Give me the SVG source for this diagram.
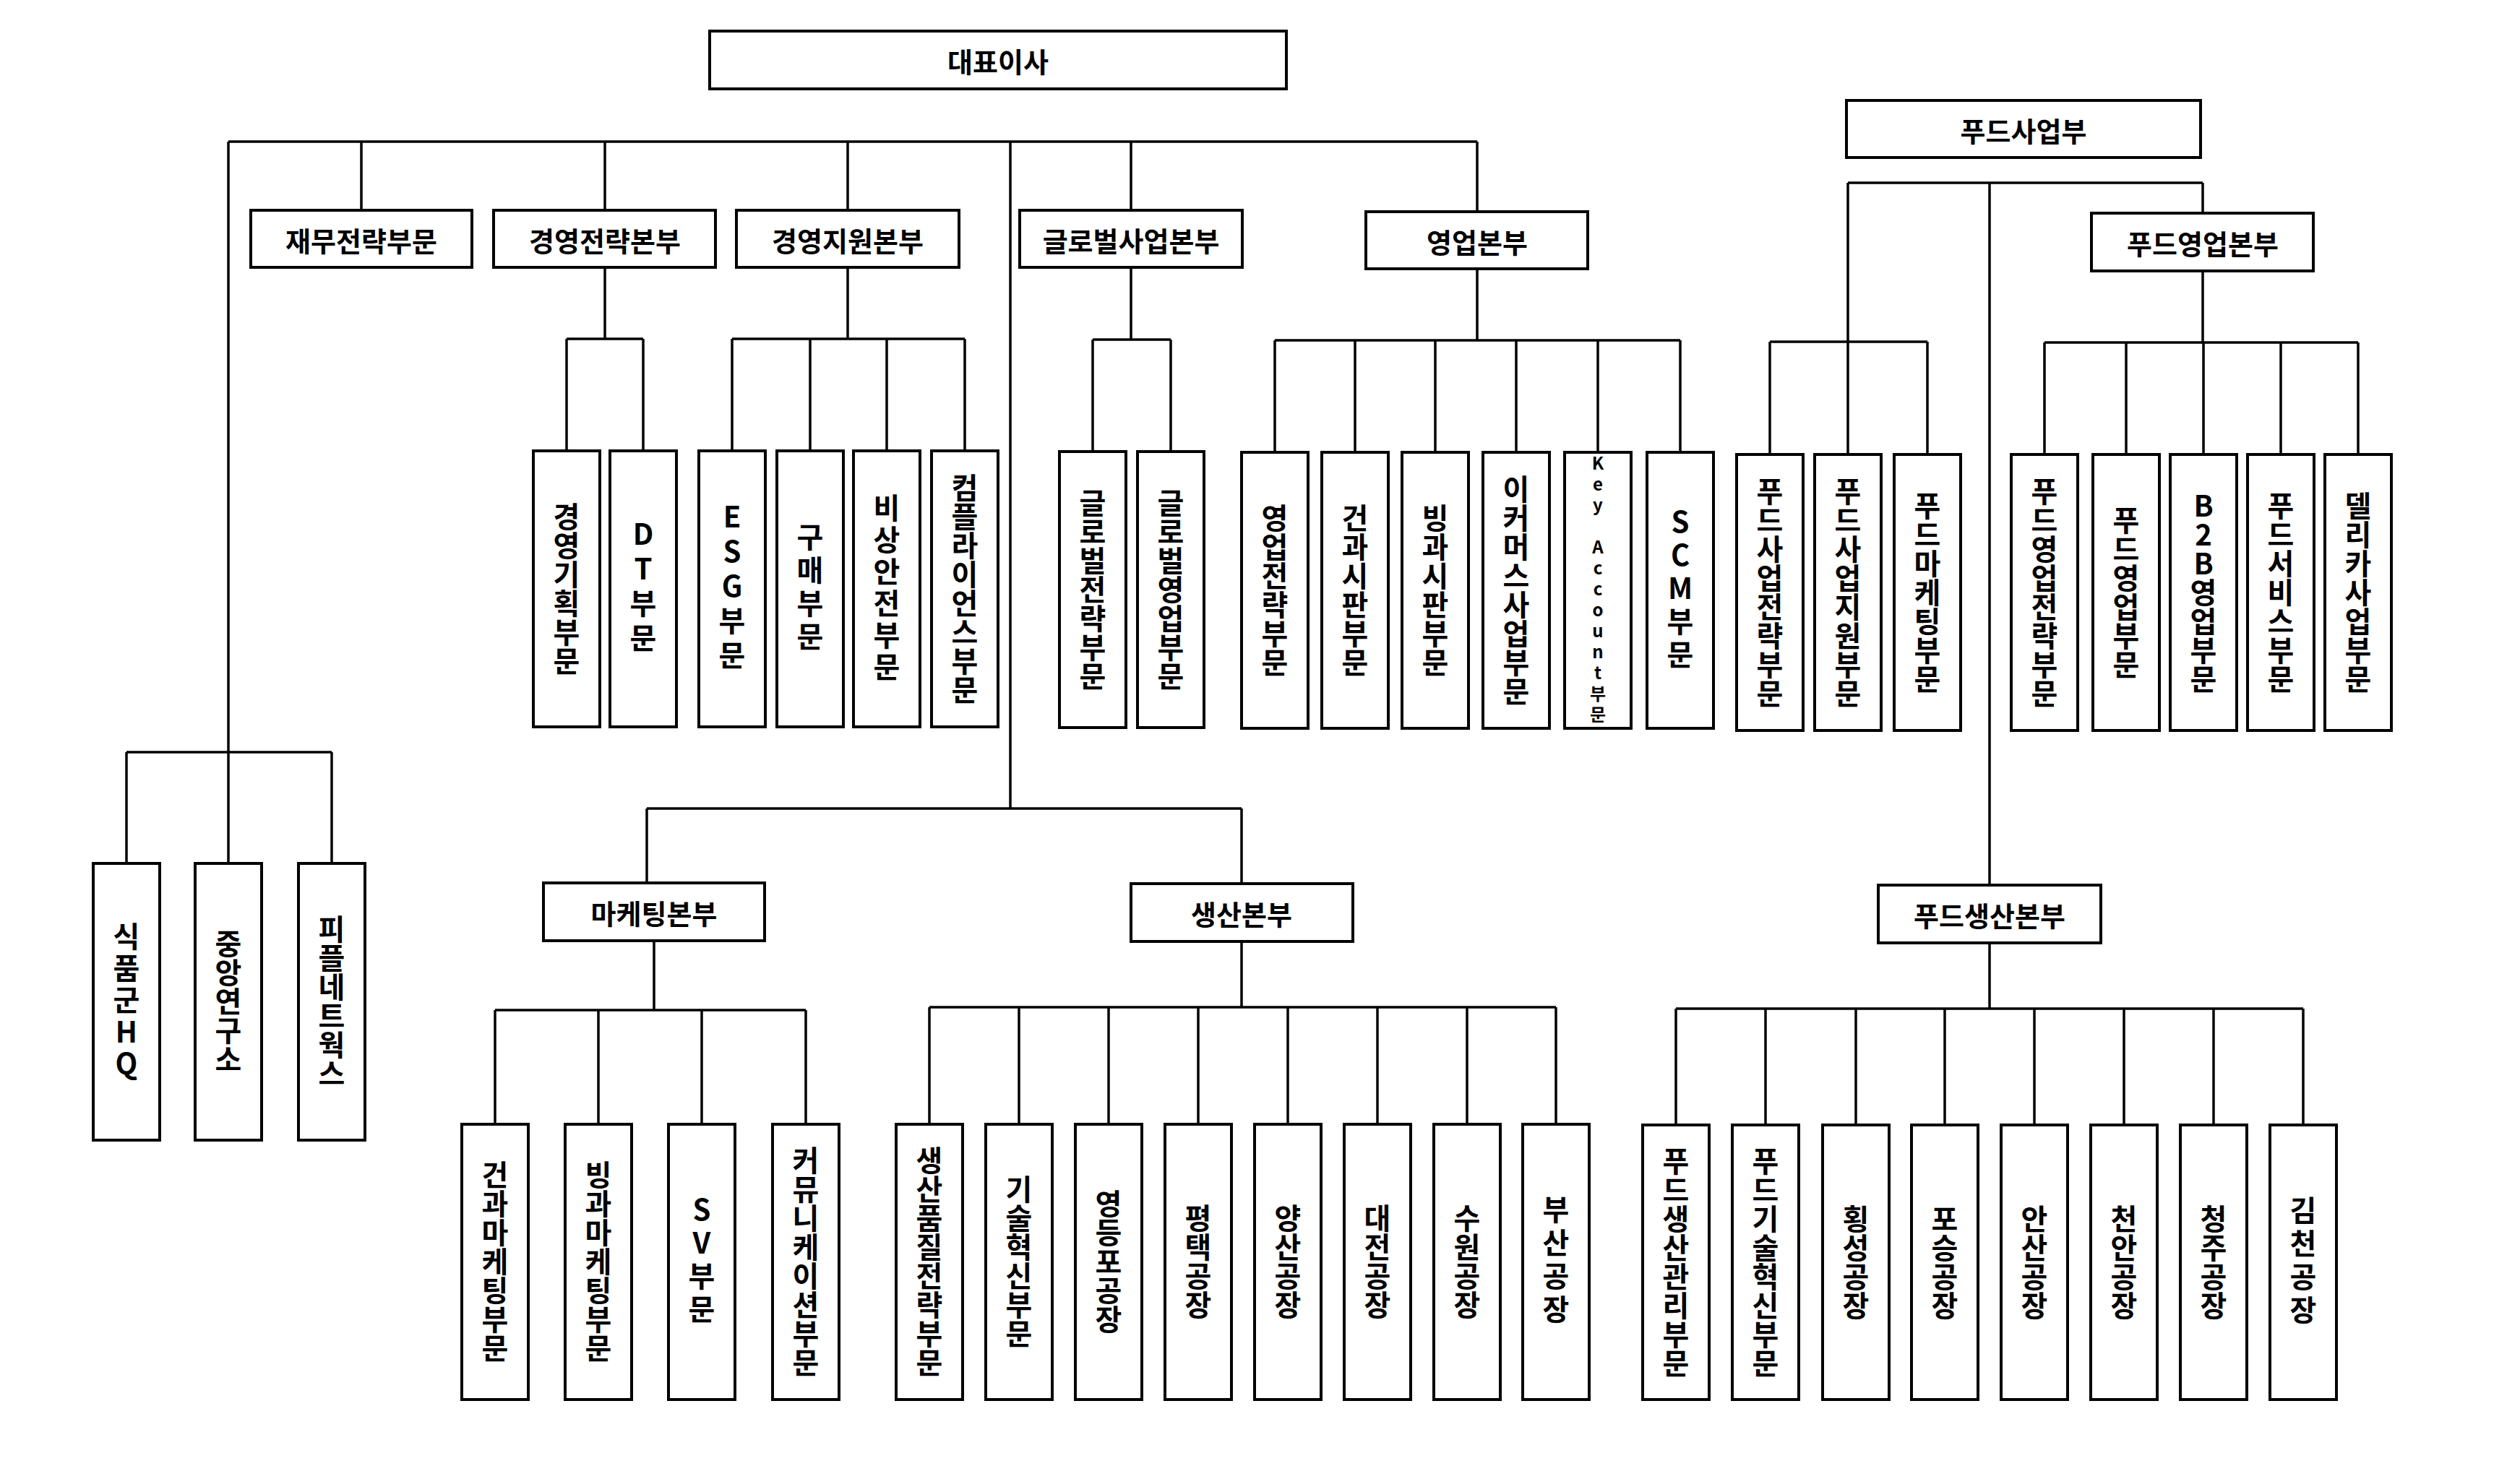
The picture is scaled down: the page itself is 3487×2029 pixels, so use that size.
<svg xmlns="http://www.w3.org/2000/svg" width="3487" height="2029" viewBox="0 0 3487 2029">
<style>
rect{fill:#fff;stroke:#000;stroke-width:4}
.c line{stroke:#000;stroke-width:3.5}
text{font-family:"Noto Sans CJK KR","Noto Sans",sans-serif;font-weight:bold;fill:#000}
.h{font-size:38px;text-anchor:middle;dominant-baseline:central}
.v{font-size:40px;writing-mode:vertical-rl;text-orientation:upright;text-anchor:middle;dominant-baseline:central}
.k{font-size:24px}
</style>
<rect x="0" y="0" width="3487" height="2029" style="stroke:none"/>
<g class="c">
<line x1="316" y1="196" x2="2044" y2="196"/>
<line x1="500" y1="196" x2="500" y2="291"/><line x1="837" y1="196" x2="837" y2="291"/><line x1="1173" y1="196" x2="1173" y2="291"/><line x1="1565" y1="196" x2="1565" y2="291"/><line x1="2044" y1="196" x2="2044" y2="293"/>
<line x1="316" y1="196" x2="316" y2="1041"/><line x1="1398" y1="196" x2="1398" y2="1119"/>
<line x1="837" y1="370" x2="837" y2="469"/><line x1="784" y1="469" x2="890" y2="469"/><line x1="784" y1="469" x2="784" y2="624"/><line x1="890" y1="469" x2="890" y2="624"/>
<line x1="1173" y1="370" x2="1173" y2="469"/><line x1="1013" y1="469" x2="1335" y2="469"/><line x1="1013" y1="469" x2="1013" y2="624"/><line x1="1121" y1="469" x2="1121" y2="624"/><line x1="1227" y1="469" x2="1227" y2="624"/><line x1="1335" y1="469" x2="1335" y2="624"/>
<line x1="1565" y1="370" x2="1565" y2="470"/><line x1="1512" y1="470" x2="1620" y2="470"/><line x1="1512" y1="470" x2="1512" y2="625"/><line x1="1620" y1="470" x2="1620" y2="625"/>
<line x1="2044" y1="372" x2="2044" y2="471"/><line x1="1764" y1="471" x2="2325" y2="471"/><line x1="1764" y1="471" x2="1764" y2="626"/><line x1="1875" y1="471" x2="1875" y2="626"/><line x1="1986" y1="471" x2="1986" y2="626"/><line x1="2098" y1="471" x2="2098" y2="626"/><line x1="2211" y1="471" x2="2211" y2="626"/><line x1="2325" y1="471" x2="2325" y2="626"/>
<line x1="175" y1="1041" x2="459" y2="1041"/><line x1="175" y1="1041" x2="175" y2="1195"/><line x1="316" y1="1041" x2="316" y2="1195"/><line x1="459" y1="1041" x2="459" y2="1195"/>
<line x1="895" y1="1119" x2="1718" y2="1119"/><line x1="895" y1="1119" x2="895" y2="1222"/><line x1="1718" y1="1119" x2="1718" y2="1223"/>
<line x1="905" y1="1302" x2="905" y2="1398"/><line x1="685" y1="1398" x2="1115" y2="1398"/><line x1="685" y1="1398" x2="685" y2="1556"/><line x1="828" y1="1398" x2="828" y2="1556"/><line x1="971" y1="1398" x2="971" y2="1556"/><line x1="1115" y1="1398" x2="1115" y2="1556"/>
<line x1="1718" y1="1303" x2="1718" y2="1394"/><line x1="1286" y1="1394" x2="2153" y2="1394"/><line x1="1286" y1="1394" x2="1286" y2="1556"/><line x1="1410" y1="1394" x2="1410" y2="1556"/><line x1="1534" y1="1394" x2="1534" y2="1556"/><line x1="1658" y1="1394" x2="1658" y2="1556"/><line x1="1782" y1="1394" x2="1782" y2="1556"/><line x1="1906" y1="1394" x2="1906" y2="1556"/><line x1="2030" y1="1394" x2="2030" y2="1556"/><line x1="2153" y1="1394" x2="2153" y2="1556"/>
<line x1="2557" y1="253" x2="3048" y2="253"/><line x1="2557" y1="253" x2="2557" y2="629"/><line x1="3048" y1="253" x2="3048" y2="295"/><line x1="2753" y1="253" x2="2753" y2="1225"/>
<line x1="2449" y1="473" x2="2667" y2="473"/><line x1="2449" y1="473" x2="2449" y2="629"/><line x1="2667" y1="473" x2="2667" y2="629"/>
<line x1="3048" y1="375" x2="3048" y2="474"/><line x1="2829" y1="474" x2="3263" y2="474"/><line x1="2829" y1="474" x2="2829" y2="629"/><line x1="2942" y1="474" x2="2942" y2="629"/><line x1="3049" y1="474" x2="3049" y2="629"/><line x1="3156" y1="474" x2="3156" y2="629"/><line x1="3263" y1="474" x2="3263" y2="629"/>
<line x1="2753" y1="1305" x2="2753" y2="1396"/><line x1="2319" y1="1396" x2="3187" y2="1396"/><line x1="2319" y1="1396" x2="2319" y2="1557"/><line x1="2443" y1="1396" x2="2443" y2="1557"/><line x1="2568" y1="1396" x2="2568" y2="1557"/><line x1="2691" y1="1396" x2="2691" y2="1557"/><line x1="2815" y1="1396" x2="2815" y2="1557"/><line x1="2939" y1="1396" x2="2939" y2="1557"/><line x1="3063" y1="1396" x2="3063" y2="1557"/><line x1="3187" y1="1396" x2="3187" y2="1557"/>
</g>
<g id="ceo"><rect x="982" y="43" width="798" height="80"/><text class="h" x="1381" y="83">대표이사</text></g>
<g id="n1"><rect x="347" y="291" width="306" height="79"/><text class="h" x="500" y="331">재무전략부문</text></g>
<g id="n2"><rect x="683" y="291" width="307" height="79"/><text class="h" x="837" y="331">경영전략본부</text></g>
<g id="n3"><rect x="1019" y="291" width="308" height="79"/><text class="h" x="1173" y="331">경영지원본부</text></g>
<g id="n4"><rect x="1411" y="291" width="308" height="79"/><text class="h" x="1565" y="331">글로벌사업본부</text></g>
<g id="n5"><rect x="1890" y="293" width="307" height="79"/><text class="h" x="2044" y="333">영업본부</text></g>
<g id="n6"><rect x="2555" y="139" width="490" height="79"/><text class="h" x="2800" y="179">푸드사업부</text></g>
<g id="n7"><rect x="2894" y="295" width="307" height="80"/><text class="h" x="3048" y="335">푸드영업본부</text></g>
<g id="n8"><rect x="752" y="1222" width="306" height="80"/><text class="h" x="905" y="1262">마케팅본부</text></g>
<g id="n9"><rect x="1565" y="1223" width="307" height="80"/><text class="h" x="1718" y="1263">생산본부</text></g>
<g id="n10"><rect x="2599" y="1225" width="308" height="80"/><text class="h" x="2753" y="1265">푸드생산본부</text></g>
<g id="a1"><rect x="738" y="624" width="92" height="382"/><text class="v" x="784" y="815">경영기획부문</text></g>
<g id="a2"><rect x="844" y="624" width="92" height="382"/><text class="v" x="890" y="815" letter-spacing="8">DT부문</text></g>
<g id="a3"><rect x="967" y="624" width="92" height="382"/><text class="v" x="1013" y="815" letter-spacing="8">ESG부문</text></g>
<g id="a4"><rect x="1075" y="624" width="92" height="382"/><text class="v" x="1121" y="815" letter-spacing="6">구매부문</text></g>
<g id="a5"><rect x="1181" y="624" width="92" height="382"/><text class="v" x="1227" y="815" letter-spacing="4">비상안전부문</text></g>
<g id="a6"><rect x="1289" y="624" width="92" height="382"/><text class="v" x="1335" y="815">컴플라이언스부문</text></g>
<g id="b1"><rect x="1466" y="625" width="92" height="382"/><text class="v" x="1512" y="816">글로벌전략부문</text></g>
<g id="b2"><rect x="1574" y="625" width="92" height="382"/><text class="v" x="1620" y="816">글로벌영업부문</text></g>
<g id="c1"><rect x="1718" y="626" width="92" height="382"/><text class="v" x="1764" y="817">영업전략부문</text></g>
<g id="c2"><rect x="1829" y="626" width="92" height="382"/><text class="v" x="1875" y="817">건과시판부문</text></g>
<g id="c3"><rect x="1940" y="626" width="92" height="382"/><text class="v" x="1986" y="817">빙과시판부문</text></g>
<g id="c4"><rect x="2052" y="626" width="92" height="382"/><text class="v" x="2098" y="817">이커머스사업부문</text></g>
<g id="c5"><rect x="2165" y="626" width="92" height="382"/><text class="v k" x="2211" y="817" letter-spacing="5">Key Account부문</text></g>
<g id="c6"><rect x="2279" y="626" width="92" height="382"/><text class="v" x="2325" y="817" letter-spacing="6">SCM부문</text></g>
<g id="d1"><rect x="2403" y="629" width="92" height="382"/><text class="v" x="2449" y="820">푸드사업전략부문</text></g>
<g id="d2"><rect x="2511" y="629" width="92" height="382"/><text class="v" x="2557" y="820">푸드사업지원부문</text></g>
<g id="d3"><rect x="2621" y="629" width="92" height="382"/><text class="v" x="2667" y="820">푸드마케팅부문</text></g>
<g id="e1"><rect x="2783" y="629" width="92" height="382"/><text class="v" x="2829" y="820">푸드영업전략부문</text></g>
<g id="e2"><rect x="2896" y="629" width="92" height="382"/><text class="v" x="2942" y="820">푸드영업부문</text></g>
<g id="e3"><rect x="3003" y="629" width="92" height="382"/><text class="v" x="3049" y="820">B2B영업부문</text></g>
<g id="e4"><rect x="3110" y="629" width="92" height="382"/><text class="v" x="3156" y="820">푸드서비스부문</text></g>
<g id="e5"><rect x="3217" y="629" width="92" height="382"/><text class="v" x="3263" y="820">델리카사업부문</text></g>
<g id="f1"><rect x="129" y="1195" width="92" height="383"/><text class="v" x="175" y="1386" letter-spacing="4">식품군HQ</text></g>
<g id="f2"><rect x="270" y="1195" width="92" height="383"/><text class="v" x="316" y="1386">중앙연구소</text></g>
<g id="f3"><rect x="413" y="1195" width="92" height="383"/><text class="v" x="459" y="1386">피플네트웍스</text></g>
<g id="g1"><rect x="639" y="1556" width="92" height="381"/><text class="v" x="685" y="1746">건과마케팅부문</text></g>
<g id="g2"><rect x="782" y="1556" width="92" height="381"/><text class="v" x="828" y="1746">빙과마케팅부문</text></g>
<g id="g3"><rect x="925" y="1556" width="92" height="381"/><text class="v" x="971" y="1746" letter-spacing="6">SV부문</text></g>
<g id="g4"><rect x="1069" y="1556" width="92" height="381"/><text class="v" x="1115" y="1746">커뮤니케이션부문</text></g>
<g id="h1"><rect x="1240" y="1556" width="92" height="381"/><text class="v" x="1286" y="1746">생산품질전략부문</text></g>
<g id="h2"><rect x="1364" y="1556" width="92" height="381"/><text class="v" x="1410" y="1746">기술혁신부문</text></g>
<g id="h3"><rect x="1488" y="1556" width="92" height="381"/><text class="v" x="1534" y="1746">영등포공장</text></g>
<g id="h4"><rect x="1612" y="1556" width="92" height="381"/><text class="v" x="1658" y="1746">평택공장</text></g>
<g id="h5"><rect x="1736" y="1556" width="92" height="381"/><text class="v" x="1782" y="1746">양산공장</text></g>
<g id="h6"><rect x="1860" y="1556" width="92" height="381"/><text class="v" x="1906" y="1746">대전공장</text></g>
<g id="h7"><rect x="1984" y="1556" width="92" height="381"/><text class="v" x="2030" y="1746">수원공장</text></g>
<g id="h8"><rect x="2107" y="1556" width="92" height="381"/><text class="v" x="2153" y="1746" letter-spacing="6">부산공장</text></g>
<g id="i1"><rect x="2273" y="1557" width="92" height="380"/><text class="v" x="2319" y="1747">푸드생산관리부문</text></g>
<g id="i2"><rect x="2397" y="1557" width="92" height="380"/><text class="v" x="2443" y="1747">푸드기술혁신부문</text></g>
<g id="i3"><rect x="2522" y="1557" width="92" height="380"/><text class="v" x="2568" y="1747">횡성공장</text></g>
<g id="i4"><rect x="2645" y="1557" width="92" height="380"/><text class="v" x="2691" y="1747">포승공장</text></g>
<g id="i5"><rect x="2769" y="1557" width="92" height="380"/><text class="v" x="2815" y="1747">안산공장</text></g>
<g id="i6"><rect x="2893" y="1557" width="92" height="380"/><text class="v" x="2939" y="1747">천안공장</text></g>
<g id="i7"><rect x="3017" y="1557" width="92" height="380"/><text class="v" x="3063" y="1747">청주공장</text></g>
<g id="i8"><rect x="3141" y="1557" width="92" height="380"/><text class="v" x="3187" y="1747" letter-spacing="6">김천공장</text></g>
</svg>
